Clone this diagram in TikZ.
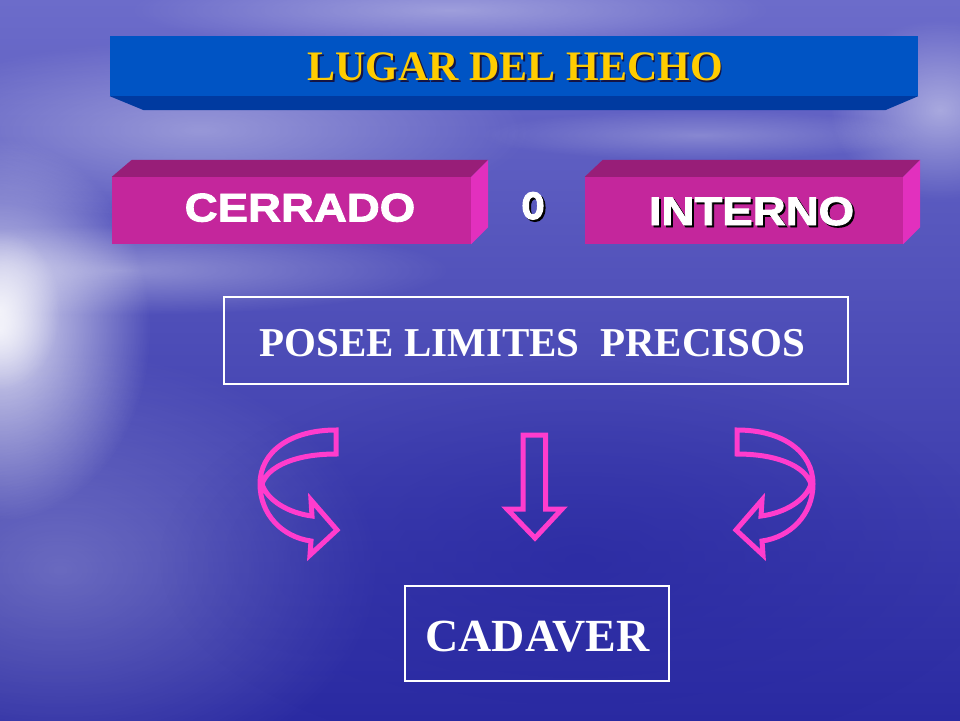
\documentclass[tikz,border=0pt]{standalone}
\usepackage{fontspec}
\setmainfont{Liberation Serif}
\newfontfamily\boxfont{Liberation Sans}[FakeStretch=1.14, FakeBold=2.2]
\newfontfamily\ofont{Liberation Sans}[FakeStretch=0.75, FakeBold=2.2]
\usetikzlibrary{fadings}
\definecolor{bgtop}{RGB}{108,108,202}
\definecolor{bgmid}{RGB}{70,70,185}
\definecolor{bgbot}{RGB}{42,42,162}
\definecolor{bgdark}{RGB}{38,38,160}
\definecolor{titleblue}{RGB}{0,84,196}
\definecolor{titlebev}{RGB}{0,58,160}
\definecolor{titleyel}{RGB}{255,204,0}
\definecolor{titleshd}{RGB}{20,20,70}
\definecolor{magfront}{RGB}{196,38,156}
\definecolor{magtop}{RGB}{152,30,120}
\definecolor{magside}{RGB}{226,48,190}
\definecolor{arrowpink}{RGB}{255,60,205}
\tikzfading[name=glow, inner color=transparent!0, outer color=transparent!100]
\newcommand\shadowed[2]{\rlap{\hspace{2pt}\raisebox{-2pt}{\textcolor{#1}{#2}}}#2}
\newcommand\curvpath{(336,430) .. controls (290,430) and (260,452) .. (260,484)
      .. controls (260,514) and (282,537) .. (311,541)
      -- (310,555) -- (337,530) -- (311,500) -- (312,516)
      .. controls (288,513) and (267,500) .. (262,484)
      .. controls (268,466) and (296,454) .. (336,454) -- cycle}
\begin{document}
\begin{tikzpicture}[x=1pt,y=-1pt,
  titlebox/.style={draw=none, fill=titleblue, minimum width=808pt, minimum height=60pt, inner sep=0pt},
  magbox/.style={draw=none, fill=magfront, inner sep=0pt, minimum height=67pt},
  titletext/.style={anchor=base, text=titleyel, font=\fontsize{42}{50}\selectfont\bfseries, inner sep=0pt},
  boxtext/.style={anchor=base, text=white, font=\fontsize{40}{48}\selectfont\boxfont\bfseries, inner sep=0pt},
  otext/.style={anchor=base, text=white, font=\fontsize{50}{56}\selectfont\ofont\bfseries, inner sep=0pt},
  frametext/.style={draw=white, line width=1.2pt, inner sep=0pt},
  whitetext/.style={anchor=base, text=white, inner sep=0pt},
  arrowline/.style={draw=arrowpink, line width=5pt, line join=miter}
]
\useasboundingbox (0,0) rectangle (960,720);
% background
\shade[top color=bgtop, middle color=bgmid, bottom color=bgbot] (0,0) rectangle (960,720);
\fill[white, path fading=glow, fill opacity=0.35] (200,130) ellipse [x radius=330, y radius=90];
\fill[white, path fading=glow, fill opacity=0.35] (450,10) ellipse [x radius=320, y radius=40];
\fill[white, path fading=glow, fill opacity=0.45] (940,110) ellipse [x radius=110, y radius=90];
\fill[white, path fading=glow, fill opacity=0.25] (700,135) ellipse [x radius=220, y radius=25];
\fill[white, path fading=glow, fill opacity=0.35] (120,270) ellipse [x radius=330, y radius=45];
\fill[white, path fading=glow, fill opacity=0.85] (0,330) ellipse [x radius=150, y radius=190];
\fill[white, path fading=glow, fill opacity=0.7] (0,310) ellipse [x radius=60, y radius=80];
\fill[white, path fading=glow, fill opacity=0.25] (60,570) ellipse [x radius=320, y radius=220];
\fill[bgdark, path fading=glow, fill opacity=0.6] (580,560) ellipse [x radius=420, y radius=200];
% title
\node[titlebox] (title) at (514,66) {};
\fill[titlebev] (title.south west) -- (title.south east)
  -- ([xshift=-33pt,yshift=-14pt]title.south east)
  -- ([xshift=34pt,yshift=-14pt]title.south west) -- cycle;
\node[titletext] (titletxt) at (515,80) {\shadowed{titleshd}{LUGAR DEL HECHO}};
% CERRADO box
\node[magbox, minimum width=359pt] (cerr) at (291.5,210.5) {};
\fill[magtop] (cerr.north west) -- ++(20,-17) -- ([xshift=17pt,yshift=17pt]cerr.north east) -- (cerr.north east) -- cycle;
\fill[magside] (cerr.north east) -- ++(17,-17) -- ([xshift=17pt,yshift=17pt]cerr.south east) -- (cerr.south east) -- cycle;
\node[boxtext] (cerrtxt) at (300,221.5) {CERRADO};
% o
\node[otext] (otxt) at (533,219) {\shadowed{black}{o}};
% INTERNO box
\node[magbox, minimum width=318pt] (intr) at (744,210.5) {};
\fill[magtop] (intr.north west) -- ++(18,-17) -- ([xshift=17pt,yshift=17pt]intr.north east) -- (intr.north east) -- cycle;
\fill[magside] (intr.north east) -- ++(17,-17) -- ([xshift=17pt,yshift=17pt]intr.south east) -- (intr.south east) -- cycle;
\node[boxtext] (intrtxt) at (751.5,225) {\shadowed{black}{INTERNO}};
% POSEE box
\node[frametext, minimum width=624pt, minimum height=87pt] (posee) at (536,340.5) {};
\node[whitetext, font=\fontsize{41}{48}\selectfont\bfseries] (poseetxt) at (532.5,356) {POSEE LIMITES\ \ PRECISOS};
% arrows
\draw[arrowline] \curvpath;
\begin{scope}[shift={(1073,0)}, xscale=-1]
\draw[arrowline] \curvpath;
\end{scope}
\draw[arrowline] (523,435) -- (545.5,435) -- (545.5,509) -- (562,509) -- (535,538) -- (507,509) -- (523,509) -- cycle;
% CADAVER box
\node[frametext, minimum width=264pt, minimum height=95pt] (cad) at (537,633.5) {};
\node[whitetext, font=\fontsize{46}{54}\selectfont\bfseries] (cadtxt) at (537.5,651) {CADAVER};
\end{tikzpicture}
\end{document}
